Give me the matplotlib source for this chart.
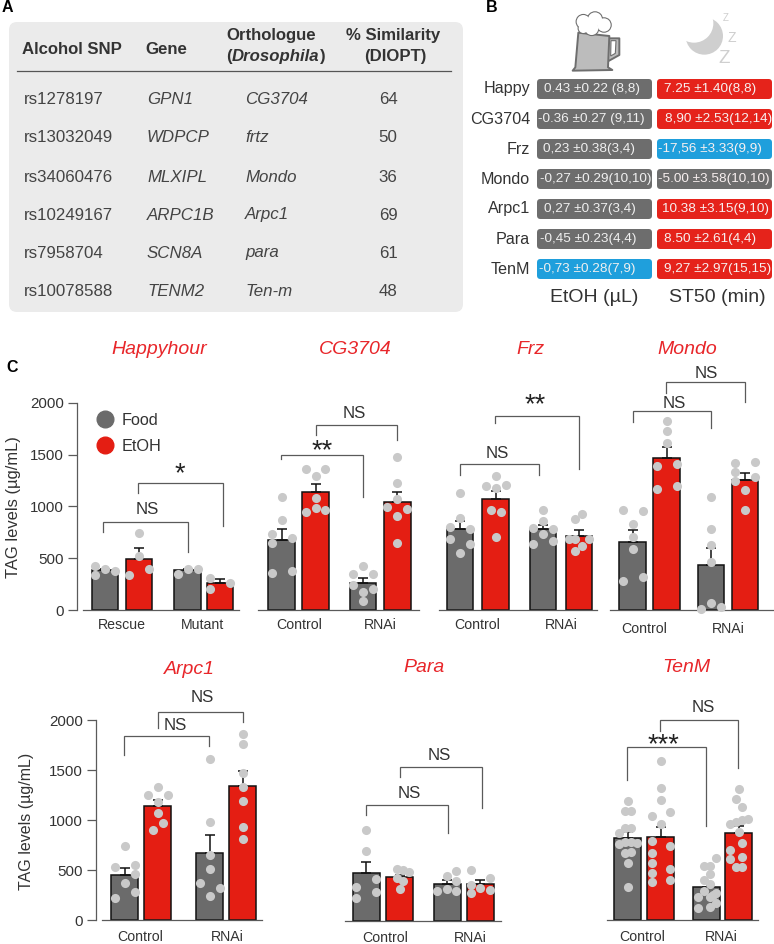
import matplotlib
matplotlib.use("Agg")
import matplotlib.pyplot as plt
from matplotlib.patches import FancyBboxPatch, Circle, Polygon
from matplotlib.lines import Line2D

plt.rcParams['font.family'] = ['Liberation Sans', 'DejaVu Sans']
W, H = 774, 944
PT = 72 / 100  # points per pixel at dpi 100

# ---------- Panel A data ----------
table_snps = ["rs1278197", "rs13032049", "rs34060476", "rs10249167", "rs7958704", "rs10078588"]
table_genes = ["GPN1", "WDPCP", "MLXIPL", "ARPC1B", "SCN8A", "TENM2"]
table_orth = ["CG3704", "frtz", "Mondo", "Arpc1", "para", "Ten-m"]
table_sim = [64, 50, 36, 69, 61, 48]

# ---------- Panel B data ----------
b_rows = ["Happy", "CG3704", "Frz", "Mondo", "Arpc1", "Para", "TenM"]
b_etoh = ["0.43 ±0.22 (8,8)", "-0.36 ±0.27 (9,11)", "0,23 ±0.38(3,4)", "-0,27 ±0.29(10,10)",
          "0,27 ±0.37(3,4)", "-0,45 ±0.23(4,4)", "-0,73 ±0.28(7,9)"]
b_st50 = ["7.25 ±1.40(8,8)", "8,90 ±2.53(12,14)", "-17,56 ±3.33(9,9)", "-5.00 ±3.58(10,10)",
          "10.38 ±3.15(9,10)", "8.50 ±2.61(4,4)", "9,27 ±2.97(15,15)"]
b_etoh_class = ["ns", "ns", "ns", "ns", "ns", "ns", "down"]
b_st50_class = ["up", "up", "down", "ns", "up", "up", "up"]

# ---------- Panel C data (TAG, ug/mL): order Food, EtOH, Food, EtOH ----------
happy_means = [387, 497, 390, 258]
happy_errs = [13, 100, 10, 39]
happy_pts = [[429, 342, 394, 374], [742, 519, 342, 394], [348, 397, 397], [310, 203, 261]]
happy_jit = [[-10, -10, 0, 10], [0, 0, -10, 10], [-10, 0, 10], [-10, -10, 10]]

cg_means = [680, 1139, 261, 1042]
cg_errs = [100, 77, 45, 100]
cg_pts = [[1090, 865, 739, 652, 697, 358, 377], [1361, 1361, 1294, 1081, 948, 981, 968],
          [429, 345, 352, 245, 203, 171, 87], [1477, 1223, 1068, 994, 977, 913, 652]]
cg_jit = [[0, 0, -10, -10, 10, -10, 10], [-10, 10, 0, 0, -10, 0, 10],
          [0, -10, 10, -10, 10, 0, 0], [0, 0, 0, -10, 10, 0, 0]]

frz_means = [774, 1068, 774, 710]
frz_errs = [78, 80, 45, 58]
frz_pts = [[1123, 881, 794, 774, 684, 629, 548], [1294, 1197, 1206, 1177, 961, 945, 703],
           [961, 855, 787, 781, 729, 661, 629], [923, 871, 677, 677, 677, 610, 568]]
frz_jit = [[0, 0, -10, 10, -10, 10, 0], [0, -10, 10, 0, -5, 5, 0],
           [0, 0, -10, 10, 0, 10, -10], [3, -4, -10, -4, 10, 3, -4]]

mondo_means = [655, 1468, 429, 1252]
mondo_errs = [113, 103, 168, 71]
mondo_pts = [[961, 948, 823, 697, 581, 316, 277], [1826, 1723, 1606, 1384, 1406, 1165, 1190],
             [1084, 774, 623, 458, 58, 6, 26], [1429, 1413, 1329, 1284, 1245, 1152, 965]]
mondo_jit = [[-10, 10, 0, 0, 0, 10, -10], [0, 0, 0, -10, 10, -10, 10],
             [0, 0, 0, 0, 0, -10, 10], [10, -10, -10, 10, -10, 0, 0]]

arpc_means = [453, 1137, 670, 1337]
arpc_errs = [70, 60, 183, 153]
arpc_pts = [[743, 533, 547, 460, 367, 283, 220], [1327, 1250, 1250, 1183, 1073, 970, 903],
            [1607, 980, 650, 513, 373, 323, 243], [1860, 1763, 1470, 1330, 1193, 927, 813]]
arpc_jit = [[0, -10, 10, 10, 0, 10, -10], [0, -10, 10, 0, 0, 5, -5],
            [0, 0, 0, 0, -10, 10, 0], [0, 0, 0, 0, 0, 0, 0]]

para_means = [477, 437, 370, 363]
para_errs = [113, 20, 40, 44]
para_pts = [[907, 700, 413, 337, 290, 230], [513, 507, 487, 427, 400, 313],
            [500, 443, 400, 320, 293, 293], [507, 430, 357, 323, 303, 273]]
para_jit = [[0, 0, 10, -10, 10, -10], [-3, 3, 9, -3, 3, 0],
            [9, 0, 9, 0, -10, 9], [-9, 10, -9, 0, 10, -9]]

tenm_means = [817, 833, 330, 873]
tenm_errs = [60, 100, 53, 70]
tenm_pts = [[1190, 1090, 1090, 917, 923, 867, 760, 783, 783, 773, 667, 683, 567, 330],
            [1590, 1317, 1200, 1040, 1077, 957, 793, 740, 673, 573, 473, 507, 400, 383],
            [620, 537, 543, 457, 400, 360, 293, 273, 227, 227, 173, 133, 117, 250],
            [1307, 1210, 1133, 960, 983, 1000, 1007, 877, 767, 697, 633, 610, 533, 533]]
tenm_jit = [[0, -3, 3, -3, 3, -9, -9, -3, 3, 9, -3, 3, 0, 0],
            [0, 0, 0, -9, 9, 0, -9, 9, -9, -9, -9, 9, 9, -9],
            [9, -3, 3, 3, -3, 3, -3, 9, -9, 3, 9, 3, -9, 6],
            [0, -3, 3, -9, -3, 3, 9, 0, 3, -9, 3, -9, -3, 3]]

GREY, RED, BLUE = "#6b6b6b", "#e41e13", "#1f9fdc"
PT_COL, DARK = "#c9c9c9", "#333333"
TITLE_RED = "#e8262a"
LINE = "#5a5a5a"

fig = plt.figure(figsize=(W / 100, H / 100), dpi=100)
ov = fig.add_axes([0, 0, 1, 1], zorder=5)
ov.set_xlim(0, W)
ov.set_ylim(H, 0)
ov.axis("off")
ov.patch.set_alpha(0)


def T(x, y, s, **kw):
    kw.setdefault("va", "center")
    kw.setdefault("ha", "left")
    kw.setdefault("color", DARK)
    return ov.text(x, y, s, **kw)


def rbox(x0, y0, x1, y1, r, color):
    ov.add_patch(FancyBboxPatch((x0 + r, y0 + r), x1 - x0 - 2 * r, y1 - y0 - 2 * r,
                                boxstyle=f"round,pad={r},rounding_size={r}",
                                fc=color, ec="none", zorder=1))


# ---------- Panel labels ----------
T(2, 8, "A", fontsize=11.5, fontweight="bold", color="black")
T(486, 8, "B", fontsize=11.5, fontweight="bold", color="black")
T(6, 368, "C", fontsize=11.5, fontweight="bold", color="black")

# ---------- Panel A ----------
rbox(9, 22, 463, 312, 8, "#ebebeb")
ov.plot([17, 451], [71, 71], color="#555555", lw=0.9, zorder=2)
hd = dict(fontsize=12.1, fontweight="bold", zorder=3)
T(22, 50, "Alcohol SNP", **hd)
T(145, 50, "Gene", **hd)
T(226, 35.5, "Orthologue", **hd)
T(226, 56, "(", **hd)
T(231.5, 56, "Drosophila", style="italic", **hd)
T(319.5, 56, ")", **hd)
T(393, 35.5, "% Similarity", ha="center", **hd)
T(395, 56, "(DIOPT)", ha="center", **hd)
row_y = [100, 138, 177, 215, 253, 292]
for y, a, b, c, d in zip(row_y, table_snps, table_genes, table_orth, table_sim):
    T(24, y, a, fontsize=12.2, color="#444444", zorder=3)
    T(147, y, b, fontsize=12.2, style="italic", color="#444444", zorder=3)
    T(245, y, c, fontsize=12.2, style="italic", color="#444444", zorder=3)
    T(388, y, str(d), fontsize=12.2, ha="center", color="#444444", zorder=3)

# ---------- Panel B ----------
cls_col = {"ns": "#6d6d6d", "up": "#e5231b", "down": "#1f9fdc"}
tops = [79, 109, 139, 169, 199, 229, 259]
et_x = [544, 538.5, 543, 539.5, 544, 539.5, 539]
st_x = [664.5, 665, 658, 658, 662, 663.5, 664]
for i, y in enumerate(tops):
    T(530, y + 10, b_rows[i], ha="right", fontsize=11.6)
    rbox(537, y, 652, y + 20, 3.5, cls_col[b_etoh_class[i]])
    rbox(657, y, 772, y + 20, 3.5, cls_col[b_st50_class[i]])
    T(et_x[i], y + 10, b_etoh[i], fontsize=9.7, color="#f0f0f0", zorder=3)
    T(st_x[i], y + 10, b_st50[i], fontsize=9.7, color="#f8f0f0", zorder=3)
T(594, 298, "EtOH (µL)", ha="center", fontsize=14)
T(717, 298, "ST50 (min)", ha="center", fontsize=14)


def zx(x):
    return 520 + x / 3


def zy(y):
    return 10 + y / 3


# beer mug
MUG, MEDGE = "#bcbcbc", "#6e6e6e"
ov.add_patch(Polygon([(zx(262), zy(85)), (zx(298), zy(85)), (zx(298), zy(135)), (zx(262), zy(155))],
                     closed=True, fc=MUG, ec=MEDGE, lw=1.4, zorder=2, joinstyle="round"))
ov.add_patch(Polygon([(zx(273), zy(92)), (zx(288), zy(92)), (zx(286), zy(130)), (zx(272), zy(138))],
                     closed=True, fc="white", ec=MEDGE, lw=0.8, zorder=3))
ov.add_patch(Polygon([(zx(175), zy(68)), (zx(268), zy(78)), (zx(264), zy(172)), (zx(277), zy(180)),
                      (zx(158), zy(182)), (zx(166), zy(172))],
                     closed=True, fc=MUG, ec=MEDGE, lw=1.4, zorder=3, joinstyle="round"))
foam = [(190, 35, 20), (225, 28, 21), (252, 45, 20), (215, 55, 20), (190, 55, 14)]
for cx, cy, r in foam:
    ov.add_patch(Circle((zx(cx), zy(cy)), r / 3 + 1.1, fc=MEDGE, ec="none", zorder=4))
for cx, cy, r in foam:
    ov.add_patch(Circle((zx(cx), zy(cy)), r / 3, fc="white", ec="none", zorder=5))

# moon
MOON = "#cfcfcf"
ov.add_patch(Circle((470 + 703 / 3, 108 / 3), 56 / 3, fc=MOON, ec="none", zorder=2))
ov.add_patch(Circle((470 + 672 / 3, 70 / 3), 58 / 3, fc="white", ec="none", zorder=3))
T(470 + 768 / 3, 55 / 3, "Z", ha="center", fontsize=7, color=MOON, zorder=4)
T(470 + 785 / 3, 113 / 3, "Z", ha="center", fontsize=10, color=MOON, zorder=4)
T(470 + 763 / 3, 175 / 3, "Z", ha="center", fontsize=13.5, color=MOON, zorder=4)


# ---------- Panel C ----------
def panel(x0, x1, y0, y2000, title, tx, ty, centers, labels, lab_x, pad, means, errs, pts, jit,
          yaxis=False, ylab_x=None, ylab_fs=11.9):
    ax = fig.add_axes([x0 / W, 1 - y0 / H, (x1 - x0) / W, (y0 - y2000) / H], zorder=2)
    ax.patch.set_alpha(0)
    ax.set_xlim(x0, x1)
    ax.set_ylim(0, 2000)
    cols = [GREY, RED, GREY, RED]
    ax.bar(centers, means, width=26.5, color=cols, edgecolor="#111111", linewidth=1.1, zorder=2)
    for c, m, e in zip(centers, means, errs):
        ax.errorbar([c], [m], yerr=[[0], [e]], ecolor="#111111", elinewidth=1.1,
                    capsize=3.6, capthick=1.1, fmt="none", zorder=3, clip_on=False)
    for c, p, j in zip(centers, pts, jit):
        ax.scatter([c + d for d in j], p, s=43, color=PT_COL, linewidths=0, zorder=4, clip_on=False)
    for s in ["top", "right"]:
        ax.spines[s].set_visible(False)
    ax.spines["bottom"].set_color(LINE)
    ax.spines["bottom"].set_linewidth(0.9)
    ax.set_xticks(lab_x, labels, fontsize=10.2, color=DARK)
    ax.tick_params(axis="x", length=0, pad=pad)
    if yaxis:
        ax.spines["left"].set_position(("outward", 6 * PT))
        ax.spines["left"].set_color(LINE)
        ax.spines["left"].set_linewidth(0.9)
        ax.set_yticks([0, 500, 1000, 1500, 2000])
        ax.tick_params(axis="y", length=9 * PT, width=0.9, color=LINE, pad=3, labelsize=10.9, labelcolor=DARK)
        T(ylab_x, (y0 + y2000) / 2 + 1, "TAG levels (µg/mL)", ha="center", rotation=90,
          fontsize=ylab_fs)
    else:
        ax.spines["left"].set_visible(False)
        ax.set_yticks([])
    T(tx, ty, title, ha="center", style="italic", fontsize=14, color=TITLE_RED)
    return ax


c_top = ["Food", "EtOH"]
ax1 = panel(83, 239, 610, 403, "Happyhour", 159, 350, [105, 139, 187.5, 220], ["Rescue", "Mutant"],
            [122, 203], 6, happy_means, happy_errs, happy_pts, happy_jit, True, 13.5)
panel(258, 419, 610, 403, "CG3704", 355, 350, [281.5, 315.5, 363, 397.5], ["Control", "RNAi"],
      [299, 380], 6, cg_means, cg_errs, cg_pts, cg_jit)
panel(439, 597, 609.5, 402.5, "Frz", 530, 350, [460, 495.5, 543, 579], ["Control", "RNAi"],
      [477, 561], 6, frz_means, frz_errs, frz_pts, frz_jit)
panel(610, 773, 609.5, 402.5, "Mondo", 687, 350, [632.5, 666.5, 711, 745], ["Control", "RNAi"],
      [644, 728], 9, mondo_means, mondo_errs, mondo_pts, mondo_jit)
panel(102, 262, 920, 720, "Arpc1", 189, 669, [124.5, 157.5, 209.5, 242.5], ["Control", "RNAi"],
      [140, 227], 7.5, arpc_means, arpc_errs, arpc_pts, arpc_jit, True, 27, 11.5)
panel(345, 501, 920.5, 720.5, "Para", 424, 668, [366.5, 399.7, 447.5, 480.5], ["Control", "RNAi"],
      [385, 470], 7.5, para_means, para_errs, para_pts, para_jit)
panel(607, 758, 920, 720, "TenM", 686, 668, [627.5, 660.5, 706.5, 738.5], ["Control", "RNAi"],
      [642, 721], 7.5, tenm_means, tenm_errs, tenm_pts, tenm_jit)

ax1.legend(handles=[Line2D([], [], marker="o", ls="none", ms=12, color=GREY),
                    Line2D([], [], marker="o", ls="none", ms=12, color=RED)],
           labels=c_top, frameon=False, fontsize=11.7, labelcolor=DARK, loc="upper left",
           bbox_to_anchor=(90 / W, 1 - 409.5 / H), bbox_transform=fig.transFigure,
           borderaxespad=0, borderpad=0.2, labelspacing=0.7, handletextpad=0.37, handlelength=1.4)

# brackets: x0, x1, top, left end, right end, label, label x, label y
brackets = [
    (103, 188, 522, 532, 552, "NS", 147, 509),
    (138, 223, 483, 493, 526, "*", 180, 470),
    (281, 363, 455, 459, 497, "**", 322, 447),
    (316, 397, 425, 435, 440, "NS", 354, 414),
    (460, 539, 464, 475, 475, "NS", 497, 453),
    (495, 579, 416, 423, 469, "**", 535, 401),
    (633, 711, 411, 422, 428, "NS", 674, 403),
    (666, 745, 382, 393, 402, "NS", 706, 373),
    (124, 209, 736, 755, 746, "NS", 175, 725),
    (158, 243, 712, 728, 722, "NS", 202, 698),
    (366, 448, 805, 815, 833, "NS", 409, 793),
    (400, 482, 767, 777, 808, "NS", 439, 756),
    (627, 706, 747, 780, 826, "***", 663, 741),
    (660, 738, 720, 731, 768, "NS", 703, 708),
]
for xa, xb, top, la, ra, lab, lx, ly in brackets:
    ov.plot([xa, xa, xb, xb], [la, top, top, ra], color=LINE, lw=0.9, solid_joinstyle="miter", zorder=6)
    if lab == "NS":
        T(lx, ly, lab, ha="center", fontsize=12.2, zorder=7)
    else:
        T(lx, ly + 4.5, lab, ha="center", fontsize=19.5, color="#222222", zorder=7)

fig.savefig("out.png", dpi=100)
